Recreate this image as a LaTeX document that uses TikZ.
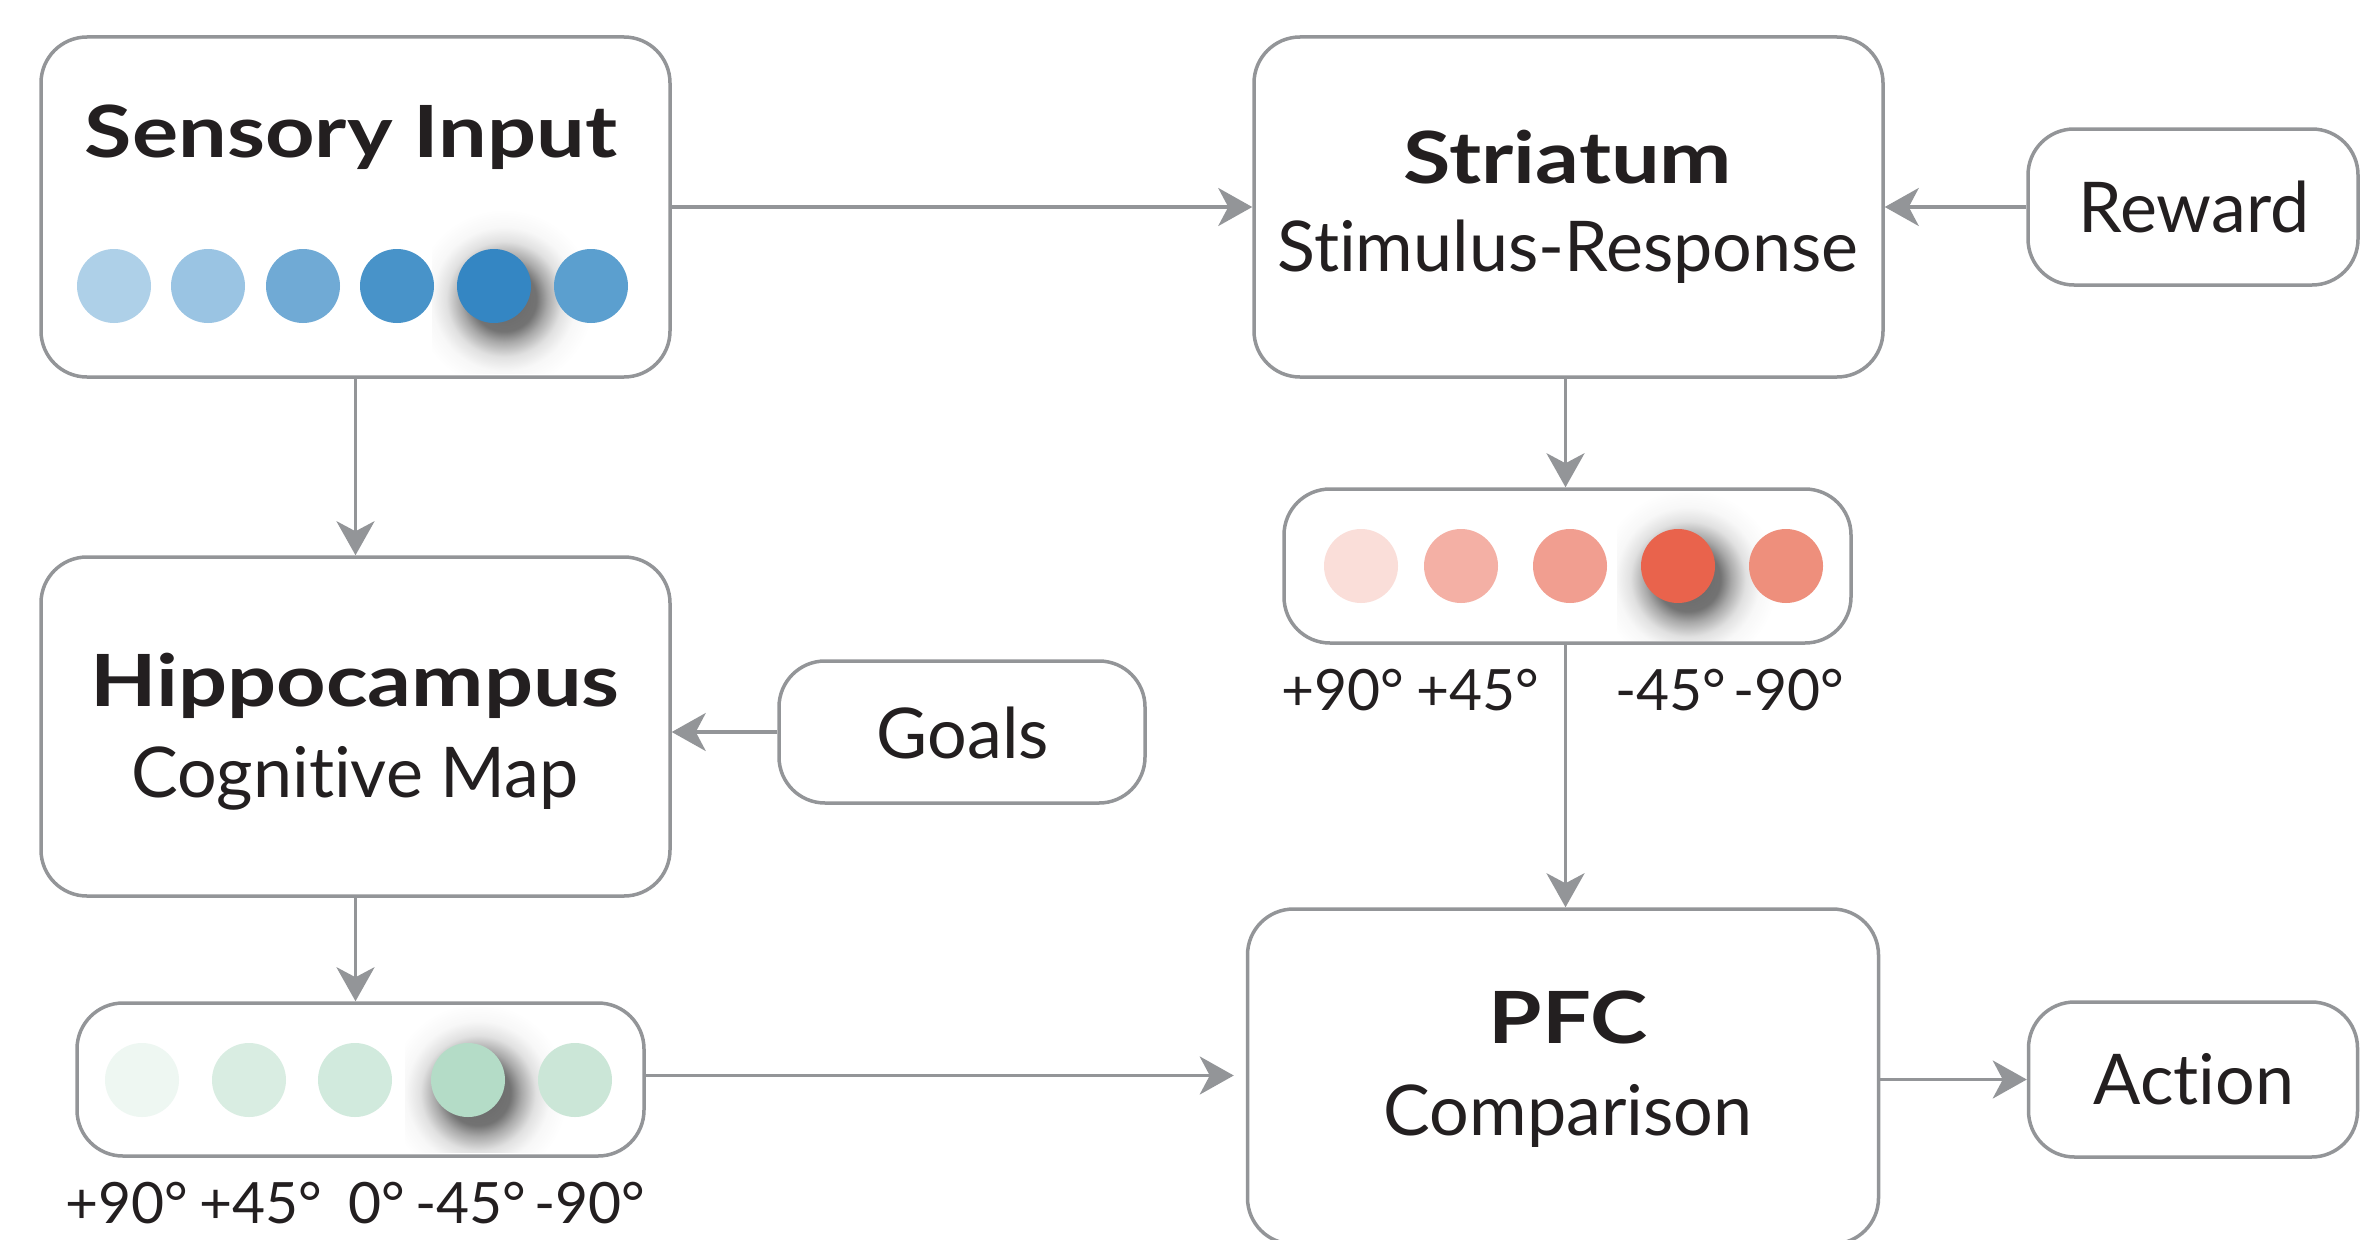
\documentclass[tikz,border=0pt]{standalone}
\usepackage{fontspec}
\setmainfont{Lato}[Ligatures=NoCommon]
\newfontfamily\headfont{Lato}[Ligatures=NoCommon, FakeStretch=1.2]
\usetikzlibrary{arrows.meta}

\definecolor{linegray}{HTML}{939598}
\definecolor{ink}{HTML}{231F20}
% sensory tuning (blue)
\definecolor{bA}{HTML}{AED0E8}
\definecolor{bB}{HTML}{9AC4E3}
\definecolor{bC}{HTML}{70AAD5}
\definecolor{bD}{HTML}{4893C9}
\definecolor{bE}{HTML}{3486C3}
\definecolor{bF}{HTML}{5B9FCF}
% striatum tuning (red)
\definecolor{rA}{HTML}{FADED9}
\definecolor{rB}{HTML}{F4B0A5}
\definecolor{rC}{HTML}{F19E90}
\definecolor{rD}{HTML}{E9634C}
\definecolor{rE}{HTML}{EE8F7C}
% hippocampus tuning (green)
\definecolor{gA}{HTML}{EEF7F2}
\definecolor{gB}{HTML}{D9EDE2}
\definecolor{gC}{HTML}{D1EADD}
\definecolor{gD}{HTML}{B4DCC7}
\definecolor{gE}{HTML}{CBE6D7}

% soft drop shadow: dark core fading to white at the circle's rim (25bp)
\pgfdeclareradialshading{dropshade}{\pgfpoint{0bp}{0bp}}{%
  color(0bp)=(black!60); color(9bp)=(black!55); color(12bp)=(black!34);
  color(16bp)=(black!12); color(20bp)=(black!3); color(25bp)=(white);
  color(50bp)=(white)}

\tikzset{
  box/.style={draw=linegray, line width=3.5pt, rounded corners=46pt, fill=white, inner sep=0pt},
  dot/.style={circle, minimum size=74pt, inner sep=0pt, draw=none},
  conn/.style={draw=linegray, line width=3.5pt, -{Stealth[length=34pt,width=38pt,inset=10pt]}},
  title/.style={font=\headfont\fontsize{72}{80}\selectfont\bfseries, text=ink, anchor=base, inner sep=0pt},
  sub/.style={font=\fontsize{70}{80}\selectfont, text=ink, anchor=base, inner sep=0pt},
  lbl/.style={font=\fontsize{57}{64}\selectfont, text=ink, anchor=base, inner sep=0pt},
  dropshadow/.style={shading=dropshade}
}

\begin{document}
\begin{tikzpicture}[x=1pt,y=-1pt]
\useasboundingbox (0,0) rectangle (2360,1239);
\clip (0,0) rectangle (2360,1239);

% ---- boxes ----
\node[box, minimum width=629pt, minimum height=340pt] (sens) at (355.5,207) {};
\node[box, minimum width=629pt, minimum height=340pt] (stri) at (1568.5,207) {};
\node[box, minimum width=330pt, minimum height=156pt] (rew) at (2193,207) {};
\node[box, minimum width=629pt, minimum height=339pt] (hip) at (355.5,726.5) {};
\node[box, minimum width=366pt, minimum height=142pt] (goal) at (962,732) {};
\node[box, minimum width=567pt, minimum height=154pt] (red) at (1567.5,566) {};
\node[box, minimum width=567pt, minimum height=153pt] (grn) at (360.5,1079.5) {};
\node[box, minimum width=631pt, minimum height=335pt] (pfc) at (1563,1076.5) {};
\node[box, minimum width=329pt, minimum height=155pt] (act) at (2193,1079.5) {};

% ---- texts ----
\node[title] (sensT) at (351,157) {Sensory Input};
\node[title] (striT) at (1568,183) {Striatum};
\node[sub]   (striS) at (1568,271) {Stimulus-Response};
\node[sub]   (rewT)  at (2194,232) {Reward};
\node[title] (hipT)  at (355,706) {Hippocampus};
\node[sub]   (hipS)  at (355,797) {Cognitive Map};
\node[sub]   (goalT) at (963,758) {Goals};
\node[title] (pfcT)  at (1568,1043) {PFC};
\node[sub]   (pfcS)  at (1568,1135) {Comparison};
\node[sub]   (actT)  at (2194,1104) {Action};

% ---- shadows under the most active units ----
\begin{scope}
  \clip (432,200) rectangle (640,373);
  \shade[dropshadow] (504,299) circle (90);
\end{scope}
\begin{scope}
  \clip (1617,493) rectangle (1800,640);
  \shade[dropshadow] (1688,579) circle (90);
\end{scope}
\begin{scope}
  \clip (405,1007) rectangle (600,1152);
  \shade[dropshadow] (478,1093) circle (90);
\end{scope}

% ---- sensory population ----
\node[dot, fill=bA] (s1) at (114,286) {};
\node[dot, fill=bB] (s2) at (208,286) {};
\node[dot, fill=bC] (s3) at (303,286) {};
\node[dot, fill=bD] (s4) at (397,286) {};
\node[dot, fill=bE] (s5) at (494,286) {};
\node[dot, fill=bF] (s6) at (591,286) {};

% ---- striatum population ----
\node[dot, fill=rA] (r1) at (1361,566) {};
\node[dot, fill=rB] (r2) at (1461,566) {};
\node[dot, fill=rC] (r3) at (1570,566) {};
\node[dot, fill=rD] (r4) at (1678,566) {};
\node[dot, fill=rE] (r5) at (1786,566) {};

\node[lbl] (rl1) at (1343,710) {+90°};
\node[lbl] (rl2) at (1478,710) {+45°};
\node[lbl] (rl4) at (1671,710) {-45°};
\node[lbl] (rl5) at (1789,710) {-90°};

% ---- hippocampus population ----
\node[dot, fill=gA] (g1) at (142,1080) {};
\node[dot, fill=gB] (g2) at (249,1080) {};
\node[dot, fill=gC] (g3) at (355,1080) {};
\node[dot, fill=gD] (g4) at (468,1080) {};
\node[dot, fill=gE] (g5) at (575,1080) {};

\node[lbl] (gl1) at (127,1223) {+90°};
\node[lbl] (gl2) at (261,1223) {+45°};
\node[lbl] (gl3) at (377,1223) {0°};
\node[lbl] (gl4) at (471,1223) {-45°};
\node[lbl] (gl5) at (590,1223) {-90°};

% ---- connectors ----
\draw[conn] (sens.east) -- (stri.west);
\draw[conn] (rew.west) -- (rew.west -| stri.east);
\draw[conn] (sens.south) -- (sens.south |- hip.north);
\draw[conn] (goal.west) -- (goal.west -| hip.east);
\draw[conn] (hip.south) -- (hip.south |- grn.north);
\draw[conn] ([xshift=-3pt]stri.south) -- ([xshift=-3pt]stri.south |- red.north);
\draw[conn] ([xshift=-2pt]red.south) -- ([xshift=-2pt]red.south |- pfc.north);
\draw[conn, shorten >=12pt] ([yshift=4pt]grn.east) -- ([yshift=4pt]grn.east -| pfc.west);
\draw[conn] (act.west -| pfc.east) -- (act.west);
\end{tikzpicture}
\end{document}
